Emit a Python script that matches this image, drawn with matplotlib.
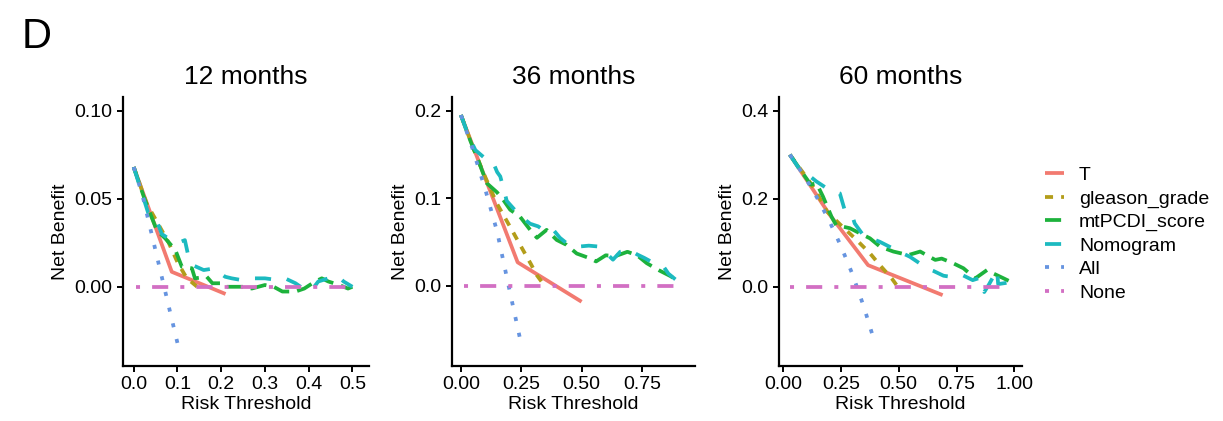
import matplotlib
matplotlib.use("Agg")
import matplotlib.pyplot as plt

plt.rcParams['font.family'] = ['Liberation Sans', 'DejaVu Sans']

# ---------------- data ----------------
titles = ["12 months", "36 months", "60 months"]
model_names = ["T", "gleason_grade", "mtPCDI_score", "Nomogram", "All", "None"]

# 12 months
t12_x = [0.0, 0.087, 0.21]
t12_y = [0.068, 0.0085, -0.0041]
gl12_x = [0.0, 0.03, 0.053, 0.08, 0.10, 0.121, 0.15]
gl12_y = [0.068, 0.047, 0.037, 0.025, 0.014, 0.005, -0.001]
mt12_x = [0.0, 0.026, 0.045, 0.053, 0.072, 0.095, 0.11, 0.133, 0.14, 0.167, 0.18, 0.20, 0.21,
          0.25, 0.27, 0.30, 0.32, 0.34, 0.37, 0.39, 0.415, 0.43, 0.445, 0.47, 0.49, 0.50]
mt12_y = [0.068, 0.049, 0.037, 0.032, 0.0275, 0.021, 0.0114, 0.0105, 0.0048, 0.0057, 0.002, 0.002, 0.0,
          0.0, -0.001, 0.001, 0.0, -0.0027, -0.0027, -0.001, 0.003, 0.0048, 0.003, 0.001, -0.001, 0.0]
nm12_x = [0.0, 0.033, 0.049, 0.064, 0.079, 0.106, 0.117, 0.126, 0.133, 0.16, 0.183, 0.209, 0.224,
          0.247, 0.277, 0.30, 0.33, 0.346, 0.37, 0.392, 0.407, 0.422, 0.445, 0.468, 0.48, 0.50]
nm12_y = [0.068, 0.042, 0.040, 0.030, 0.0275, 0.0254, 0.0265, 0.0162, 0.0125, 0.0095, 0.0104, 0.0057, 0.0048,
          0.0038, 0.0048, 0.0048, 0.0038, 0.0048, 0.002, -0.0018, -0.0018, 0.003, 0.0048, 0.0057, 0.003, 0.0]
all12_x = [0.0, 0.02, 0.04, 0.06, 0.08, 0.102]
all12_y = [0.068, 0.052, 0.031, 0.010, -0.011, -0.034]
none12_x = [0.005, 0.50]
none12_y = [0.0, 0.0]

# 36 months
t36_x = [0.0, 0.235, 0.50]
t36_y = [0.195, 0.027, -0.018]
gl36_x = [0.0, 0.05, 0.094, 0.149, 0.211, 0.245, 0.29, 0.314, 0.35]
gl36_y = [0.195, 0.158, 0.1286, 0.094, 0.064, 0.047, 0.025, 0.0125, -0.001]
mt36_x = [0.0, 0.04, 0.066, 0.09, 0.108, 0.149, 0.176, 0.204, 0.245, 0.287, 0.315, 0.355, 0.397,
          0.437, 0.48, 0.53, 0.56, 0.60, 0.64, 0.69, 0.73, 0.77, 0.82, 0.87, 0.90]
mt36_y = [0.195, 0.165, 0.1475, 0.13, 0.117, 0.107, 0.098, 0.087, 0.079, 0.064, 0.055, 0.064, 0.0525,
          0.047, 0.037, 0.032, 0.028, 0.035, 0.034, 0.039, 0.035, 0.026, 0.018, 0.011, 0.005]
nm36_x = [0.0, 0.03, 0.06, 0.094, 0.12, 0.135, 0.15, 0.163, 0.19, 0.245, 0.287, 0.32, 0.35, 0.383,
          0.41, 0.437, 0.49, 0.53, 0.57, 0.60, 0.63, 0.66, 0.70, 0.73, 0.76, 0.80, 0.84, 0.86, 0.90]
nm36_y = [0.195, 0.172, 0.155, 0.147, 0.145, 0.14, 0.13, 0.125, 0.097, 0.080, 0.071, 0.068, 0.062, 0.064,
          0.055, 0.049, 0.045, 0.046, 0.045, 0.038, 0.030, 0.039, 0.041, 0.036, 0.032, 0.026, 0.022, 0.014, 0.005]
all36_x = [0.0, 0.05, 0.10, 0.15, 0.20, 0.248]
all36_y = [0.195, 0.155, 0.111, 0.062, -0.003, -0.064]
none36_x = [0.011, 0.896]
none36_y = [0.0, 0.0]

# 60 months
t60_x = [0.03, 0.20, 0.368, 0.69]
t60_y = [0.30, 0.165, 0.049, -0.019]
gl60_x = [0.03, 0.09, 0.14, 0.19, 0.25, 0.311, 0.376, 0.419, 0.47, 0.51]
gl60_y = [0.30, 0.257, 0.22, 0.171, 0.14, 0.11, 0.076, 0.049, 0.019, -0.01]
mt60_x = [0.03, 0.08, 0.12, 0.145, 0.173, 0.21, 0.23, 0.289, 0.376, 0.42, 0.477, 0.542, 0.593,
          0.658, 0.686, 0.737, 0.78, 0.831, 0.882, 0.91, 0.954, 0.997]
mt60_y = [0.30, 0.262, 0.232, 0.235, 0.205, 0.159, 0.14, 0.133, 0.11, 0.091, 0.080, 0.072, 0.080,
          0.061, 0.064, 0.053, 0.042, 0.019, 0.038, 0.030, 0.019, 0.008]
nm60_x = [0.03, 0.07, 0.10, 0.145, 0.20, 0.246, 0.267, 0.296, 0.31, 0.347, 0.419, 0.49, 0.549,
          0.60, 0.621, 0.65, 0.694, 0.72, 0.77, 0.82, 0.85, 0.86, 0.87, 0.89, 0.925, 0.93, 0.98, 1.0]
nm60_y = [0.30, 0.268, 0.258, 0.239, 0.220, 0.212, 0.174, 0.167, 0.144, 0.117, 0.102, 0.083, 0.068,
          0.050, 0.042, 0.036, 0.025, 0.023, 0.028, 0.015, 0.02, 0.004, -0.012, 0.005, 0.038, 0.006, 0.01, 0.005]
all60_x = [0.03, 0.10, 0.15, 0.20, 0.25, 0.30, 0.35, 0.39]
all60_y = [0.30, 0.245, 0.20, 0.15, 0.093, 0.029, -0.046, -0.115]
none60_x = [0.03, 0.96]
none60_y = [0.0, 0.0]

x_ticks = [[0.0, 0.1, 0.2, 0.3, 0.4, 0.5], [0.0, 0.25, 0.5, 0.75], [0.0, 0.25, 0.5, 0.75, 1.0]]
x_ticklabels = [["0.0", "0.1", "0.2", "0.3", "0.4", "0.5"], ["0.00", "0.25", "0.50", "0.75"],
                ["0.00", "0.25", "0.50", "0.75", "1.00"]]
y_ticks = [[0.0, 0.05, 0.10], [0.0, 0.1, 0.2], [0.0, 0.2, 0.4]]
y_ticklabels = [["0.00", "0.05", "0.10"], ["0.0", "0.1", "0.2"], ["0.0", "0.2", "0.4"]]

# ---------------- style ----------------
colors = ['#F27A70', '#B39D1A', '#1DB23C', '#1CBAC0', '#6694E0', '#D26FC3']
LW = 2.7
u = 2.9 / LW  # one linetype unit ~ 4 px
dash_styles = [None, (2 * u, 2 * u), (4 * u, 2 * u), (4 * u, 4 * u), (1 * u, 3 * u),
               (1 * u, 3 * u, 4 * u, 3 * u)]

panels = [
    [(t12_x, t12_y), (gl12_x, gl12_y), (mt12_x, mt12_y), (nm12_x, nm12_y), (all12_x, all12_y), (none12_x, none12_y)],
    [(t36_x, t36_y), (gl36_x, gl36_y), (mt36_x, mt36_y), (nm36_x, nm36_y), (all36_x, all36_y), (none36_x, none36_y)],
    [(t60_x, t60_y), (gl60_x, gl60_y), (mt60_x, mt60_y), (nm60_x, nm60_y), (all60_x, all60_y), (none60_x, none60_y)],
]

W, H = 1223, 421
fig = plt.figure(figsize=(W / 100, H / 100), dpi=100)

ax_px = [(123, 369), (452, 695), (779, 1022)]
top_px, bot_px = 97, 366
xlims = [(-0.0245, 0.538), (-0.037, 0.970), (-0.017, 1.033)]
ylims = [(-0.045, 0.1078), (-0.0913, 0.2156), (-0.18, 0.431)]

handles = []
for i in range(3):
    l, r = ax_px[i]
    ax = fig.add_axes([l / W, 1 - bot_px / H, (r - l) / W, (bot_px - top_px) / H])
    for j, (xs, ys) in enumerate(panels[i]):
        ln, = ax.plot(xs, ys, color=colors[j], lw=LW, solid_capstyle='butt',
                      dash_capstyle='butt', solid_joinstyle='round', label=model_names[j])
        if dash_styles[j] is not None:
            ln.set_dashes(dash_styles[j])
        if i == 0:
            handles.append(ln)
    ax.set_xlim(*xlims[i])
    ax.set_ylim(*ylims[i])
    ax.set_xticks(x_ticks[i])
    ax.set_xticklabels(x_ticklabels[i])
    ax.set_yticks(y_ticks[i])
    ax.set_yticklabels(y_ticklabels[i])
    for s in ['top', 'right']:
        ax.spines[s].set_visible(False)
    for s in ['left', 'bottom']:
        ax.spines[s].set_linewidth(1.6)
        ax.spines[s].set_color('black')
    ax.tick_params(axis='both', direction='out', length=4.5, width=1.4, labelsize=14,
                   colors='black', pad=3)
    ax.set_xlabel("Risk Threshold", fontsize=14, labelpad=2)
    ax.set_ylabel("Net Benefit", fontsize=14, labelpad=4)
    ax.set_title(titles[i], fontsize=19, pad=9)

fig.legend(handles=handles, labels=model_names, loc='center left',
           bbox_to_anchor=(1045 / W, 1 - 234 / H), frameon=False, fontsize=14,
           handlelength=1.0, handletextpad=0.75, labelspacing=0.3, borderpad=0,
           borderaxespad=0)

fig.text(22 / W, 1 - 48 / H, "D", fontsize=30, va='baseline', ha='left')

fig.savefig("out.png", dpi=100)
